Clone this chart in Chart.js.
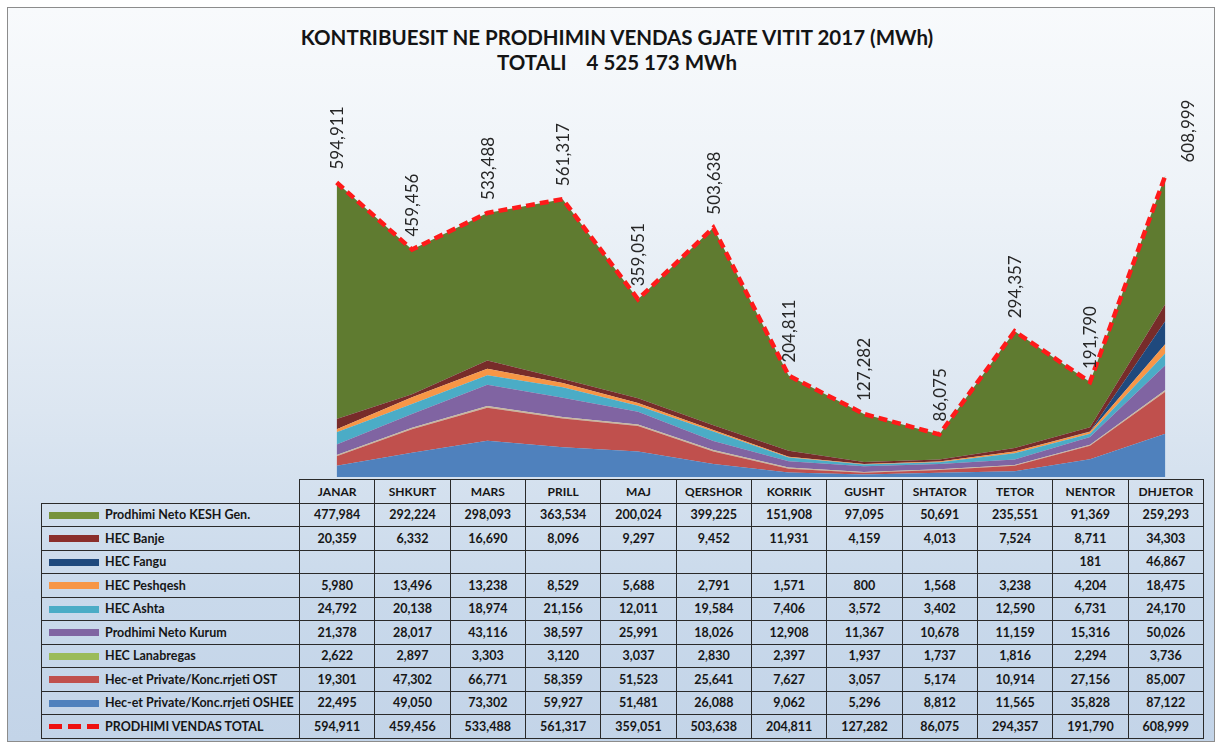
<!DOCTYPE html>
<html>
<head>
<meta charset="utf-8">
<script src="https://cdn.jsdelivr.net/npm/chart.js@4.4.1/dist/chart.umd.min.js"></script>
<style>
  html, body { margin: 0; padding: 0; background: #ffffff; }
  #wrap { position: relative; width: 1220px; height: 743px; overflow: hidden; background: #ffffff; }
  #panel { position: absolute; left: 7px; top: 7px; width: 1206px; height: 733px; border: 1px solid #8c8c8c;
           background: linear-gradient(to bottom, #f8fafc 0%, #eef3f8 25%, #dce6f1 55%, #c9d9eb 80%, #c3d4e8 100%); }
  #title { position: absolute; left: 0; top: 25px; width: 1234px; text-align: center; font-family: Lato, sans-serif;
           font-weight: bold; font-size: 20.5px; line-height: 25px; color: #141414; }
  #chartbox { position: absolute; left: 0; top: 0; width: 1220px; height: 478px; }
  #tbl { position: absolute; left: 41px; top: 479px; border-collapse: collapse; table-layout: fixed;
         font-family: Lato, sans-serif; font-weight: bold; font-size: 12.5px; color: #161616; }
  #tbl td { border: 1px solid #2a2a2a; height: 22.5px; padding: 0; text-align: center; white-space: nowrap; overflow: hidden; }
  #tbl td.lab { text-align: left; }
  #tbl td.blank { border: none; }
  #tbl tr.hdr td { font-size: 12px; }
  .sw { display: inline-block; width: 50px; height: 7px; margin: 0 6px 0 7px; vertical-align: middle; position: relative; top: -1px; }
  .swdash { background: repeating-linear-gradient(to right, #ee1111 0 13px, transparent 13px 19px); height: 5px; }
</style>
</head>
<body>
<div id="wrap">
  <div id="panel"></div>
  <div id="title">KONTRIBUESIT NE PRODHIMIN VENDAS GJATE VITIT 2017 (MWh)<br>TOTALI&nbsp;&nbsp;&nbsp;&nbsp;4 525 173 MWh</div>
  <div id="chartbox"><canvas id="c"></canvas></div>
  <table id="tbl"></table>
</div>
<script>
// ---- data ----
const months = ["JANAR","SHKURT","MARS","PRILL","MAJ","QERSHOR","KORRIK","GUSHT","SHTATOR","TETOR","NENTOR","DHJETOR"];
const keshGen    = [477984,292224,298093,363534,200024,399225,151908,97095,50691,235551,91369,259293];
const hecBanje   = [20359,6332,16690,8096,9297,9452,11931,4159,4013,7524,8711,34303];
const hecFangu   = [null,null,null,null,null,null,null,null,null,null,181,46867];
const hecPeshqesh= [5980,13496,13238,8529,5688,2791,1571,800,1568,3238,4204,18475];
const hecAshta   = [24792,20138,18974,21156,12011,19584,7406,3572,3402,12590,6731,24170];
const netoKurum  = [21378,28017,43116,38597,25991,18026,12908,11367,10678,11159,15316,50026];
const hecLanabregas = [2622,2897,3303,3120,3037,2830,2397,1937,1737,1816,2294,3736];
const privateOST = [19301,47302,66771,58359,51523,25641,7627,3057,5174,10914,27156,85007];
const privateOSHEE = [22495,49050,73302,59927,51481,26088,9062,5296,8812,11565,35828,87122];
const totalVendas = [594911,459456,533488,561317,359051,503638,204811,127282,86075,294357,191790,608999];

const seriesNames = {
  kesh: "Prodhimi Neto KESH Gen.",
  banje: "HEC Banje",
  fangu: "HEC Fangu",
  peshqesh: "HEC Peshqesh",
  ashta: "HEC Ashta",
  kurum: "Prodhimi Neto Kurum",
  lanabregas: "HEC Lanabregas",
  ost: "Hec-et Private/Konc.rrjeti OST",
  oshee: "Hec-et Private/Konc.rrjeti OSHEE",
  total: "PRODHIMI VENDAS TOTAL"
};

// ---- styles ----
const areaColors = {
  oshee: "#4f81bd", ost: "#c0504d", lanabregas: "#c9b79c", kurum: "#8064a2", ashta: "#4bacc6",
  peshqesh: "#f79646", fangu: "#1f497d", banje: "#772c2a", kesh: "#5f7b30"
};
const swatchColors = {
  kesh: "#77933c", banje: "#8b2e2b", fangu: "#1f497d", peshqesh: "#f79646", ashta: "#4bacc6",
  kurum: "#8064a2", lanabregas: "#9bbb59", ost: "#c0504d", oshee: "#4f81bd"
};

// stacking order bottom -> top
const stackOrder = [
  ["oshee", privateOSHEE], ["ost", privateOST], ["lanabregas", hecLanabregas], ["kurum", netoKurum],
  ["ashta", hecAshta], ["peshqesh", hecPeshqesh], ["fangu", hecFangu], ["banje", hecBanje], ["kesh", keshGen]
];
// table order top -> bottom
const tableOrder = [
  ["kesh", keshGen], ["banje", hecBanje], ["fangu", hecFangu], ["peshqesh", hecPeshqesh], ["ashta", hecAshta],
  ["kurum", netoKurum], ["lanabregas", hecLanabregas], ["ost", privateOST], ["oshee", privateOSHEE], ["total", totalVendas]
];

const fmt = v => (v === null || v === undefined) ? "" : v.toLocaleString("en-US");

const datasets = stackOrder.map(([key, arr], i) => ({
  label: seriesNames[key],
  data: arr.map(v => v ?? 0),
  backgroundColor: areaColors[key],
  borderColor: areaColors[key],
  borderWidth: 0,
  pointRadius: 0,
  tension: 0,
  fill: i === 0 ? "origin" : "-1",
  yAxisID: "y"
}));
datasets.push({
  label: seriesNames.total,
  data: totalVendas,
  borderColor: "#ff1a1a",
  backgroundColor: "#ff1a1a",
  borderWidth: 4.5,
  borderDash: [9, 5],
  pointRadius: 0,
  tension: 0,
  fill: false,
  yAxisID: "y2",
  order: -1
});

const totalLabels = {
  id: "totalLabels",
  afterDatasetsDraw(chart) {
    const meta = chart.getDatasetMeta(chart.data.datasets.length - 1);
    const ctx = chart.ctx;
    const last = meta.data.length - 1;
    ctx.save();
    ctx.font = "17px Lato, sans-serif";
    ctx.fillStyle = "#262626";
    ctx.textAlign = "left";
    ctx.textBaseline = "middle";
    meta.data.forEach((pt, i) => {
      // the last label is pushed right of its point, as in the original
      const dx = i === last ? 23 : 1;
      ctx.save();
      ctx.translate(pt.x + dx, pt.y - 13);
      ctx.rotate(-Math.PI / 2);
      ctx.fillText(fmt(totalVendas[i]), 0, 0);
      ctx.restore();
    });
    ctx.restore();
  }
};

const chart = new Chart(document.getElementById("c"), {
  type: "line",
  data: { labels: months, datasets },
  options: {
    responsive: true,
    maintainAspectRatio: false,
    animation: false,
    layout: { padding: { left: 299, right: 17, top: 81, bottom: 1 } },
    plugins: { legend: { display: false }, tooltip: { enabled: false }, title: { display: false } },
    scales: {
      x: { display: false, offset: true },
      y: { display: false, stacked: true, min: 0, max: 800000 },
      y2: { display: false, stacked: false, min: 0, max: 800000 }
    }
  },
  plugins: [totalLabels]
});

// ---- table aligned with the x scale ----
(function buildTable() {
  const tableLeft = 41;
  const colW = (chart.chartArea.right - chart.chartArea.left) / months.length;
  const firstW = chart.chartArea.left - tableLeft;
  const tbl = document.getElementById("tbl");
  const cg = document.createElement("colgroup");
  const c0 = document.createElement("col"); c0.style.width = firstW + "px"; cg.appendChild(c0);
  months.forEach(() => { const c = document.createElement("col"); c.style.width = colW + "px"; cg.appendChild(c); });
  tbl.appendChild(cg);
  tbl.style.width = (firstW + colW * months.length) + "px";

  const hdr = document.createElement("tr"); hdr.className = "hdr";
  const b = document.createElement("td"); b.className = "blank"; hdr.appendChild(b);
  months.forEach(m => { const td = document.createElement("td"); td.textContent = m; hdr.appendChild(td); });
  tbl.appendChild(hdr);

  tableOrder.forEach(([key, arr]) => {
    const tr = document.createElement("tr");
    const lab = document.createElement("td"); lab.className = "lab";
    const sw = document.createElement("span");
    sw.className = key === "total" ? "sw swdash" : "sw";
    if (key !== "total") sw.style.background = swatchColors[key];
    lab.appendChild(sw);
    lab.appendChild(document.createTextNode(seriesNames[key]));
    tr.appendChild(lab);
    arr.forEach(v => { const td = document.createElement("td"); td.textContent = fmt(v); tr.appendChild(td); });
    tbl.appendChild(tr);
  });
})();
</script>
</body>
</html>
